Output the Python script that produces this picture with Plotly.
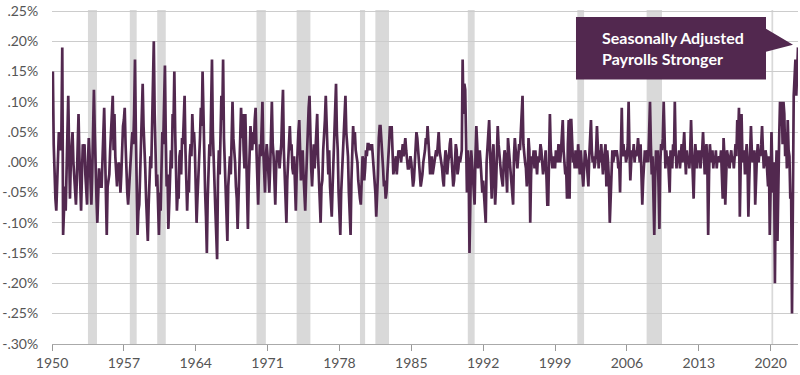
import numpy as np
import plotly.graph_objects as go

# Monthly values, units of 0.01 percentage point, Jan 1950 onward
v1950s = [
    12, 15, 3, -5, -6, -8, -4, 0, 5, 3, 2, 5,
    19, -12, -7, -4, -8, -2, 3, 11, 2, -6, 0, 3,
    5, 0, -2, -4, -7, -3, 2, 8, 1, -3, -8, -2,
    3, 1, 3, -2, -4, -7, 0, 4, 1, -3, -7, -2,
    4, 12, 5, -3, -6, -10, -2, -1, -3, -4, -4, 2,
    5, 9, 2, -6, -12, -4, -3, -2, 2, 5, 7, 11,
    2, 8, 1, -2, -4, -1, 0, -1, -5, -2, 3, 6,
    7, 9, 3, -3, -5, -7, -4, -1, 1, 3, 5, 3,
    8, 17, 5, -6, -12, -8, -7, -2, 4, 9, 13, 6,
    3, -1, -6, -9, -13, -7, -2, 1, -1, 6, 14, 20,
]
v1960s = [
    8, 2, -4, -2, -9, -12, -5, -8, -1, 5, 3, 12,
    16, 4, -4, -2, -11, -7, -3, 2, -1, 8, 6, 15,
    5, -3, -8, -5, -6, 1, 2, -2, 4, 3, 9, 11,
    2, -5, -8, -3, -5, 1, 3, 1, 8, 4, 5, 2,
    -4, -10, -6, -3, 1, 4, 9, 6, 15, 8, -2, -5,
    -9, -15, -6, -1, 3, 1, 10, 17, 5, -1, -3, -8,
    -12, -16, -3, 2, -2, 6, 11, 7, 17, 4, 0, -6,
    -7, -13, -4, -1, 1, -2, 7, 10, 4, 2, 0, -4,
    -6, -11, -5, 2, 6, 9, 4, 8, 2, -1, 8, 2,
    -4, -11, -3, 2, 6, 3, 2, 5, 3, 7, 9, 2,
]
v1970s = [
    -3, -7, -1, 3, 1, 8, 10, 2, -2, -5, 1, 3,
    1, -2, -5, -1, 4, 10, 3, 1, -3, -7, -1, 2,
    0, 2, -1, 1, 3, 8, 12, 2, -2, -6, -10, -3,
    1, 4, 6, 2, 3, -1, -2, 1, -6, -8, -2, 3,
    5, 7, 2, -3, 1, 2, -2, -5, -8, -3, 2, 7,
    9, 11, 3, -1, -4, 0, 3, -1, 2, 5, 8, 1,
    -3, -7, -10, -4, -3, 2, 4, 7, 11, 4, 2, -2,
    2, -4, -7, -9, -4, 1, 6, 9, 13, 5, 2, -5,
    -8, -12, -5, -2, 1, 3, 7, 11, 5, 2, 1, -5,
    -9, -12, -3, 2, 6, 3, 5, 2, 1, 0, -3, -5,
]
v1980s = [
    -6, -7, -2, 1, 0, -3, -1, 2, 1, 3, 3, 2,
    3, 2, 3, 1, -1, -3, -5, -9, -6, -2, 4, 6,
    6, 4, 2, -1, -4, -3, -6, -5, -2, 2, 3, 6,
    4, 6, 1, -2, -1, 0, 1, -2, 0, 2, 1, 2,
    0, 2, 3, 1, 3, 4, 2, 0, -1, -1, 0, 1,
    0, -2, -4, -3, 0, 3, 5, 4, 2, 0, -2, -4,
    -3, -2, 0, 1, 2, 4, 3, 6, 4, 1, -2, 0,
    1, -2, -1, 0, 1, 2, 1, 3, 5, 2, 1, 0,
    -1, -3, -4, 0, 2, 1, -2, 0, 1, 3, 4, 1,
    -2, -4, -3, 1, 3, 2, -2, -1, 1, 0, 1, 2,
]
v1990s = [
    17, 8, 13, 12, 4, -5, 2, 0, -15, -5, 2, 0,
    -2, -4, -7, 1, 6, 3, -1, 1, 2, 0, -3, -5,
    -3, -6, -8, -10, 0, 3, 5, 7, 2, -3, -6, 1,
    3, -2, -7, -4, 2, 6, 3, 1, 0, -2, -3, -4,
    0, 2, 1, -2, -5, 4, 2, 1, -1, -3, -5, -7,
    1, 4, 2, 0, -1, 1, 3, 2, 5, 8, 11, 3,
    1, 0, -1, -4, -2, 4, 2, -10, -2, 1, 0, 2,
    -1, 2, 0, -2, 1, 0, 1, 3, 2, 0, -2, -1,
    0, 2, -3, -7, -7, 6, 8, 2, 0, -1, 1, 0,
    -1, 2, 1, 0, 3, 1, 0, 2, 4, 7, 2, 0,
]
v2000s = [
    -2, -1, -6, 3, 7, -6, 7, 7, 2, 0, 1, -1,
    2, 0, -1, 3, 1, -2, 2, 0, -1, -4, -1, 2,
    1, 0, -2, -4, 1, 4, 7, 2, 0, 1, -1, 0,
    2, 6, 1, -1, 2, 0, 3, 1, -2, 0, 2, 3,
    -4, 2, 0, -3, -10, -6, 1, 2, 0, 1, 2, 1,
    2, 1, -1, 0, -5, 2, 9, 1, 3, 1, 2, 0,
    1, 3, 10, 2, -3, 0, 2, 1, 3, 0, 2, 1,
    2, 4, 1, 0, 3, -2, -7, -3, 1, 2, 0, 1,
    2, 0, 4, 10, 3, -2, 1, -4, -12, -3, 2, 0,
    2, -4, -11, 0, 3, 2, 4, 10, 1, -1, 2, 0,
]
v2010s = [
    1, -2, -5, 2, 1, -1, 3, 1, 10, 2, -1, 1,
    0, 2, -1, 1, 3, 0, 2, 5, 1, -2, 2, 0,
    1, -1, 2, 7, 2, -1, -6, 0, 3, 1, -1, 2,
    0, 2, -1, 1, 2, 5, 0, -2, 1, 3, 0, -12,
    -2, 3, 1, 0, 2, -1, 1, 0, 2, -1, 1, 0,
    1, 0, 2, -4, -6, 4, 1, -7, 0, 2, 1, 0,
    -1, 1, 2, 0, 1, -1, 2, 3, 1, 7, 4, 9,
    -9, 2, 8, 1, 0, 2, -2, 1, 3, 0, -9, -3,
    3, 6, 2, 0, 1, 2, -7, -2, 1, 3, 0, 2,
    1, 3, 6, 2, -1, 0, 2, 1, -2, -4, 1, -12,
]
v2020s = [
    -4, 5, -2, -5, 0, -20, -3, 2, -13, 0, 4, 10,
    6, 10, 3, 10, 8, 1, 5, -1, 7, 2, 1, -6,
    -5, -25, 2, 11, 14, 17, 11, 16, 19,
]

recession_start = [1953.5, 1957.58, 1960.25, 1969.92, 1973.83, 1980.0, 1981.5, 1990.5, 2001.17, 2007.92, 2020.08]
recession_end = [1954.38, 1958.25, 1961.08, 1970.83, 1975.17, 1980.5, 1982.83, 1991.17, 2001.83, 2009.42, 2020.25]

year_ticks = [1950, 1957, 1964, 1971, 1978, 1985, 1992, 1999, 2006, 2013, 2020]
y_ticks = [-0.30, -0.25, -0.20, -0.15, -0.10, -0.05, 0.00, 0.05, 0.10, 0.15, 0.20, 0.25]
y_tick_labels = ['-.30%', '-.25%', '-.20%', '-.15%', '-.10%', '-.05%', '.00%', '.05%', '.10%', '.15%', '.20%', '.25%']

annotation_text = "Seasonally Adjusted<br>Payrolls Stronger"

values = np.array(v1950s + v1960s + v1970s + v1980s + v1990s + v2000s + v2010s + v2020s) / 100.0
x = 1950 + np.arange(len(values)) / 12.0

PURPLE = "#52284f"
FONT = "Lato"

fig = go.Figure()
fig.add_trace(go.Scatter(x=x, y=values, mode="lines",
                         line=dict(color=PURPLE, width=2.7),
                         hoverinfo="skip", showlegend=False))

shapes = []
for s, e in zip(recession_start, recession_end):
    shapes.append(dict(type="rect", xref="x", yref="paper", x0=s, x1=e, y0=0, y1=1,
                       fillcolor="#d9d9d9", line=dict(width=0), layer="below"))

# callout box with pointer (paper coordinates)
bx0, bx1, by0, by1 = 0.7024, 0.9571, 0.7917, 0.9792
path = (f"M {bx0},{by0} L {bx0},{by1} L {bx1},{by1} L {bx1},0.9435 "
        f"L 0.9933,0.8958 L {bx1},0.875 L {bx1},{by0} Z")
shapes.append(dict(type="path", xref="paper", yref="paper", path=path,
                   fillcolor=PURPLE, line=dict(width=0), layer="above"))

fig.update_layout(
    width=800, height=375,
    margin=dict(l=52, r=2, t=7, b=31),
    plot_bgcolor="white", paper_bgcolor="white",
    shapes=shapes,
    annotations=[dict(xref="paper", yref="paper", x=0.7346, y=0.8854,
                      xanchor="left", yanchor="middle", align="left",
                      text=annotation_text, showarrow=False,
                      font=dict(family=FONT, size=16, color="white", weight="bold"))],
    xaxis=dict(range=[1950, float(x[-1])], tickvals=year_ticks, showgrid=False,
               ticks="outside", ticklen=6, tickcolor="#999999",
               showline=True, linecolor="#aaaaaa", linewidth=1, zeroline=False,
               tickfont=dict(family=FONT, size=14, color="#555555")),
    yaxis=dict(range=[-0.3003, 0.2518], tickvals=y_ticks, ticktext=y_tick_labels,
               showgrid=True, gridcolor="#cccccc", gridwidth=1, zeroline=False,
               ticks="outside", ticklen=10, tickcolor="rgba(0,0,0,0)",
               ticklabeloverflow="allow",
               tickfont=dict(family=FONT, size=14, color="#555555")),
)

fig.write_html("out.html")
